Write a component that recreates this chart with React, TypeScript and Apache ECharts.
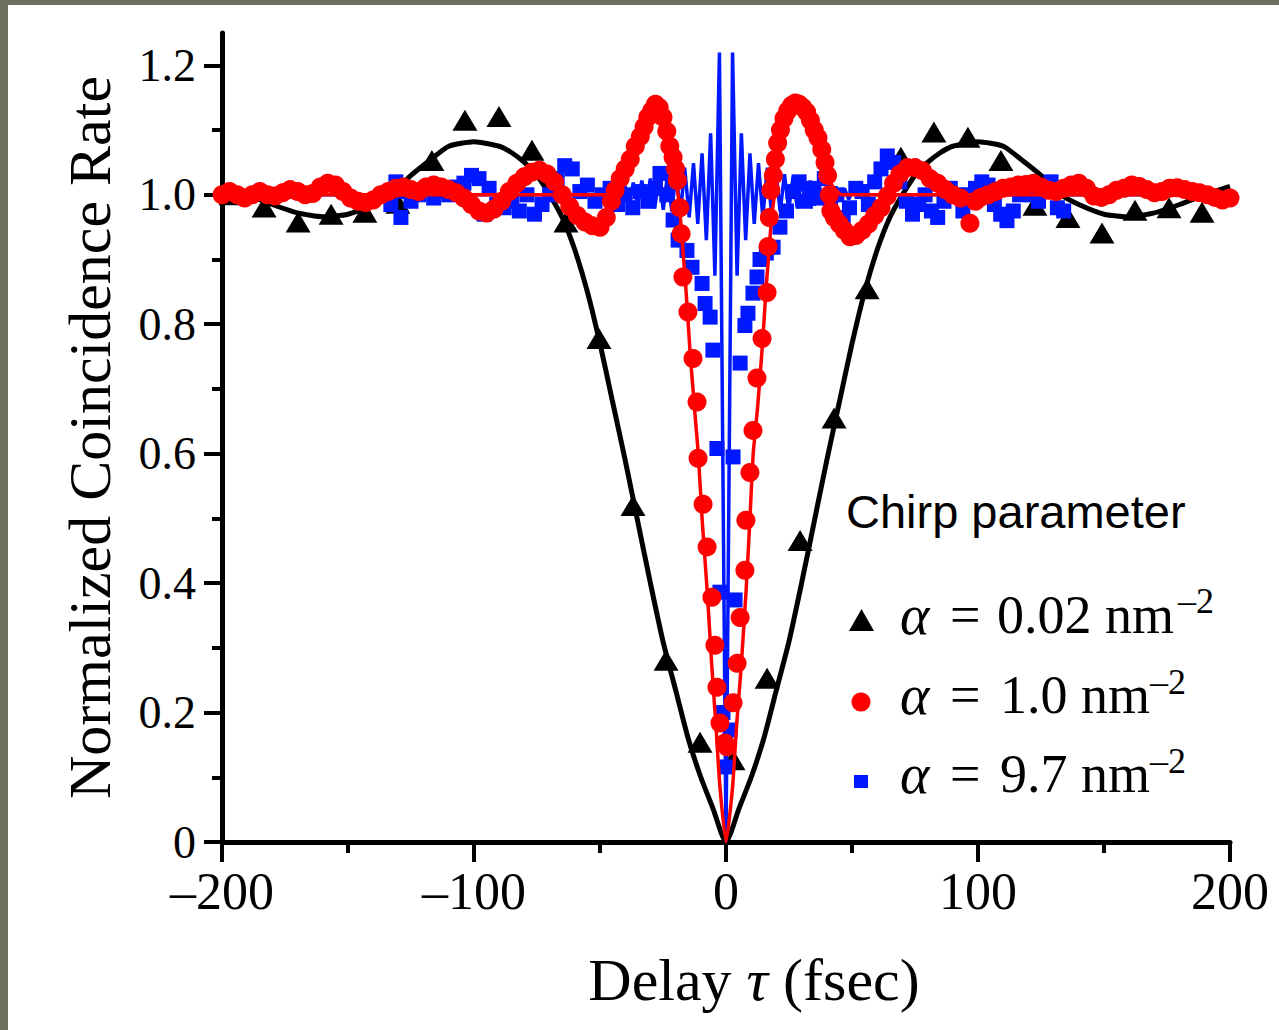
import React, { useEffect, useRef } from "react";
import * as echarts from "echarts";

// ---------- data (t in fsec, value = normalized coincidence rate) ----------
const xTicks = [-200, -100, 0, 100, 200];
const yMajorTicks = [0, 0.2, 0.4, 0.6, 0.8, 1.0, 1.2];
const yMinorTicks = [0.1, 0.3, 0.5, 0.7, 0.9, 1.1];

// alpha = 0.02 nm^-2 : measured (triangles)
const blackPoints: number[][] = [
  [-196.4, 1.0], [-183.3, 0.981], [-169.8, 0.958], [-156.7, 0.97], [-143.3, 0.973],
  [-130.2, 0.987], [-116.7, 1.053], [-103.6, 1.115], [-90.1, 1.121], [-77.0, 1.069],
  [-63.5, 0.958], [-50.4, 0.778], [-36.9, 0.52], [-23.8, 0.281], [-10.3, 0.154],
  [2.8, 0.127], [16.3, 0.253], [29.4, 0.466], [42.9, 0.655], [56.0, 0.855],
  [69.4, 1.058], [82.5, 1.097], [96.0, 1.089], [109.1, 1.053], [122.6, 0.984],
  [135.7, 0.965], [149.2, 0.941], [162.3, 0.976], [175.8, 0.98], [188.9, 0.973],
];

// alpha = 0.02 nm^-2 : fit
const blackFit: number[][] = [
  [-200, 1.013], [-190, 1.0], [-180, 0.985], [-170, 0.972], [-160, 0.966], [-150, 0.97],
  [-140, 0.985], [-133, 1.0], [-125, 1.03], [-117, 1.055], [-110, 1.075], [-100, 1.082],
  [-90, 1.075], [-85, 1.065], [-80, 1.05], [-75, 1.03], [-70, 1.0], [-65, 0.965],
  [-60, 0.915], [-55, 0.85], [-50, 0.77], [-45, 0.68], [-40, 0.59], [-35, 0.495],
  [-30, 0.4], [-25, 0.31], [-20, 0.235], [-15, 0.16], [-10, 0.1], [-5, 0.05], [-2, 0.015],
  [0, 0],
  [2, 0.015], [5, 0.05], [10, 0.1], [15, 0.16], [20, 0.235], [25, 0.31], [30, 0.4],
  [35, 0.495], [40, 0.59], [45, 0.68], [50, 0.77], [55, 0.85], [60, 0.915], [65, 0.965],
  [70, 1.0], [75, 1.03], [80, 1.05], [85, 1.065], [90, 1.075], [100, 1.082], [110, 1.075],
  [117, 1.055], [125, 1.03], [133, 1.0], [140, 0.985], [150, 0.97], [160, 0.966],
  [170, 0.972], [180, 0.985], [190, 1.0], [200, 1.013],
];

// alpha = 1.0 nm^-2 : measured (circles)
const redPoints: number[][] = [
  [-200, 1.0], [-197, 1.005], [-194, 1.0], [-191, 0.995], [-188, 1.0], [-185, 1.005],
  [-182, 1.0], [-179, 0.998], [-176, 1.003], [-173, 1.008], [-170, 1.005], [-167, 1.0],
  [-164, 1.002], [-161, 1.012], [-158, 1.018], [-155, 1.015], [-152, 1.005], [-149, 0.995],
  [-146, 0.99], [-143, 0.988], [-140, 0.992], [-137, 1.0], [-134, 1.005], [-131, 1.01],
  [-128, 1.012], [-125, 1.008], [-122, 1.005], [-119, 1.012], [-116, 1.015], [-113, 1.012],
  [-110, 1.008], [-107, 1.003], [-104, 0.995], [-101, 0.985], [-98, 0.975], [-95, 0.972],
  [-92, 0.978], [-89, 0.99], [-86, 1.005], [-83, 1.018], [-80, 1.028], [-77, 1.035],
  [-74, 1.038], [-71, 1.032], [-68, 1.02], [-65, 1.0], [-62, 0.982], [-59, 0.968],
  [-56, 0.958], [-53, 0.952], [-50, 0.95], [-47.5, 0.965], [-45.5, 0.99], [-44, 1.007],
  [-42, 1.025], [-40, 1.04], [-38, 1.055], [-36, 1.075], [-34, 1.09], [-32.5, 1.105],
  [-31, 1.12], [-29.5, 1.13], [-28, 1.14], [-26.5, 1.135], [-25, 1.12], [-23.5, 1.098],
  [-22.3, 1.075], [-21, 1.058], [-20, 1.04], [-19.3, 1.022], [-18.3, 0.98], [-17.8, 0.94],
  [-17.1, 0.873], [-15.1, 0.819], [-13.1, 0.747], [-11.5, 0.68], [-11.1, 0.593],
  [-9.1, 0.522], [-7.5, 0.456], [-5.6, 0.378], [-4.4, 0.304], [-3.6, 0.239], [-2.4, 0.184],
  [-0.4, 0.153], [0.4, 0.147], [2.8, 0.215], [4.4, 0.276], [5.6, 0.347], [7.5, 0.42],
  [7.9, 0.497], [9.5, 0.571], [10.7, 0.636], [12.3, 0.717], [14.3, 0.778], [16.3, 0.849],
  [16.7, 0.92], [17.2, 0.965], [17.8, 1.007], [18.8, 1.03], [19.6, 1.055], [20.5, 1.08],
  [21.6, 1.1], [23, 1.118], [24.5, 1.13], [26, 1.138], [27.5, 1.142], [29, 1.14],
  [30.5, 1.135], [32, 1.128], [33.5, 1.115], [35, 1.1], [36.5, 1.088], [38, 1.07],
  [39.3, 1.05], [40.3, 1.03], [41, 1.0], [41.6, 0.975], [43, 0.965], [45, 0.955],
  [47, 0.945], [49.2, 0.935], [51.5, 0.937], [54, 0.945], [56.5, 0.955], [59, 0.968],
  [61.5, 0.98], [64, 0.998], [66.5, 1.018], [69, 1.032], [72, 1.042], [75, 1.042],
  [78, 1.037], [81, 1.025], [84, 1.018], [87, 1.008], [90, 1.0], [93, 0.995], [96.8, 0.956],
  [99, 0.99], [101, 0.996], [104, 1.0], [107, 1.005], [110, 1.01], [113, 1.012],
  [116, 1.015], [119, 1.016], [122, 1.018], [125, 1.012], [128, 1.007], [131, 1.005],
  [134, 1.01], [137, 1.015], [140, 1.018], [143, 1.01], [146, 0.998], [149, 0.996],
  [152, 1.0], [155, 1.007], [158, 1.01], [161, 1.015], [164, 1.013], [167, 1.008],
  [170, 1.003], [173, 1.005], [176, 1.01], [179, 1.011], [182, 1.008], [185, 1.005],
  [188, 1.003], [191, 1.0], [194, 0.996], [197, 0.992], [200, 0.995],
];

// alpha = 1.0 nm^-2 : fit
const redFit: number[][] = [
  [-200, 1.0], [-150, 1.0], [-100, 1.0], [-60, 1.0], [-46, 1.0], [-42, 1.015], [-39, 1.04],
  [-36, 1.07], [-33, 1.1], [-30, 1.125], [-28, 1.135], [-26, 1.13], [-24, 1.11], [-22, 1.08],
  [-20.5, 1.04], [-19, 1.0], [-18, 0.96], [-17, 0.91], [-16, 0.86], [-14.3, 0.76],
  [-12.5, 0.67], [-11, 0.6], [-9.5, 0.5], [-7.5, 0.39], [-5.6, 0.27], [-4, 0.18],
  [-2.4, 0.085], [0, 0], [2.6, 0.085], [4.2, 0.18], [6, 0.27], [8, 0.39], [9.5, 0.5],
  [10.8, 0.6], [12.5, 0.67], [14.3, 0.76], [16, 0.86], [17, 0.91], [18, 0.96], [19.2, 1.0],
  [20.5, 1.04], [22, 1.08], [24, 1.11], [26, 1.13], [28, 1.135], [30, 1.125], [33, 1.1],
  [36, 1.07], [39, 1.04], [42, 1.015], [46, 1.0], [60, 1.0], [100, 1.0], [150, 1.0], [200, 1.0],
];

// alpha = 9.7 nm^-2 : measured (squares)
const bluePoints: number[][] = [
  [-133, 0.985], [-131, 1.02], [-129, 0.965], [-127, 1.005], [-125, 0.99], [-122, 1.0],
  [-119, 1.01], [-116, 0.995], [-113, 1.005], [-110, 1.0], [-107, 1.012], [-104, 1.018],
  [-101, 1.03], [-98, 1.025], [-96, 0.97], [-94, 1.01], [-91, 0.985], [-88, 0.98],
  [-85, 0.99], [-82, 0.975], [-79, 1.0], [-76, 0.97], [-73, 0.985], [-70, 1.0],
  [-67, 1.025], [-64, 1.045], [-61, 1.04], [-58, 1.005], [-55, 1.015], [-52, 0.99],
  [-49, 1.0], [-46, 1.01], [-43, 0.985], [-40, 1.0], [-37, 0.98], [-34, 1.005],
  [-31, 0.99], [-28, 1.01], [-26.2, 1.033], [-23.5, 1.0], [-21, 0.961], [-19, 0.93],
  [-15.5, 0.914], [-13.5, 0.888], [-9.5, 0.863], [-8.3, 0.832], [-6.3, 0.811], [-5.2, 0.76],
  [-3.6, 0.608], [-2.4, 0.386], [-1.2, 0.2], [0.4, 0.116], [1.6, 0.173], [2.8, 0.595],
  [3.6, 0.374], [5.6, 0.74], [7.5, 0.798], [8.7, 0.817], [10.7, 0.848], [12.3, 0.873],
  [13.5, 0.9], [16, 0.91], [18.7, 0.919], [21.4, 0.95], [24, 0.975], [26.5, 1.005],
  [29, 1.02], [31.5, 0.99], [34, 1.01], [36.5, 0.995], [39, 1.025], [41.5, 0.985],
  [44, 1.0], [46.5, 0.965], [49, 0.98], [51.5, 1.01], [54, 1.005], [56.5, 0.985],
  [59, 1.02], [61.5, 1.04], [64, 1.06], [66.5, 1.05], [69, 1.02], [71.5, 0.99],
  [74, 0.97], [76.5, 0.985], [79, 1.0], [81.5, 0.975], [84, 0.965], [86.5, 0.99],
  [89, 1.01], [91.5, 1.0], [94, 0.975], [96.5, 1.0], [99, 1.01], [101.5, 1.02],
  [104, 1.015], [106.5, 0.985], [109, 0.97], [111.5, 0.96], [114, 0.975], [116.5, 1.0],
  [119, 1.015], [121.5, 1.0], [124, 0.99], [126.5, 1.005], [129, 1.02], [131.5, 0.98],
  [134, 0.975],
];

// alpha = 9.7 nm^-2 : fit (fringes)
const blueFit: number[][] = [
  [-200, 1.0], [-120, 1.0], [-55, 1.0], [-52.1, 1.0], [-50.4, 1.007], [-48.7, 0.993],
  [-47.0, 1.01], [-45.3, 0.99], [-43.6, 1.013], [-41.9, 0.988], [-40.2, 1.016], [-38.5, 0.985],
  [-36.8, 1.019], [-35.1, 0.983], [-33.4, 1.022], [-31.7, 0.981], [-30.0, 1.025], [-28.3, 0.979],
  [-26.6, 1.028], [-24.9, 0.977], [-23.2, 1.032], [-21.5, 0.974], [-19.8, 1.036], [-18.1, 0.97],
  [-16.4, 1.042], [-14.6, 0.965], [-12.9, 1.049], [-11.2, 0.955], [-9.5, 1.064], [-7.8, 0.93],
  [-6.1, 1.095], [-4.4, 0.875], [-2.6, 1.22], [0, 0], [2.6, 1.22], [4.4, 0.875], [6.1, 1.095],
  [7.8, 0.93], [9.5, 1.064], [11.2, 0.955], [12.9, 1.049], [14.6, 0.965], [16.4, 1.042],
  [18.1, 0.97], [19.8, 1.036], [21.5, 0.974], [23.2, 1.032], [24.9, 0.977], [26.6, 1.028],
  [28.3, 0.979], [30.0, 1.025], [31.7, 0.981], [33.4, 1.022], [35.1, 0.983], [36.8, 1.019],
  [38.5, 0.985], [40.2, 1.016], [41.9, 0.988], [43.6, 1.013], [45.3, 0.99], [47.0, 1.01],
  [48.7, 0.993], [50.4, 1.007], [52.1, 1.0], [55, 1.0], [120, 1.0], [200, 1.0],
];

const legendLabels = ["0.02", "1.0", "9.7"];

// ---------- chart ----------
const SERIF = "'Liberation Serif', 'Times New Roman', serif";
const SANS = "'Liberation Sans', Arial, sans-serif";
const BLUE = "#0018ff";
const RED = "#ff0000";

export default function App() {
  const ref = useRef<HTMLDivElement>(null);

  useEffect(() => {
    if (!ref.current) return;
    const chart = echarts.init(ref.current, null, { renderer: "svg" });

    const legendRowsY = [615, 695, 774];
    const supRowsY = [601, 682, 761];
    const numX = [997, 1000, 1000];
    const supX = [1178, 1150, 1150];
    const legendTexts: any[] = [];
    legendLabels.forEach((lab, i) => {
      legendTexts.push(
        {
          type: "text", x: 900, y: legendRowsY[i],
          style: { text: "α", fontFamily: SERIF, fontSize: 56, fontStyle: "italic", fill: "#000", align: "left", verticalAlign: "middle", textAlign: "left", textVerticalAlign: "middle" },
        },
        {
          type: "text", x: 950, y: legendRowsY[i],
          style: { text: "=", fontFamily: SERIF, fontSize: 54, fill: "#000", align: "left", verticalAlign: "middle", textAlign: "left", textVerticalAlign: "middle" },
        },
        {
          type: "text", x: numX[i], y: legendRowsY[i],
          style: { text: lab + " nm", fontFamily: SERIF, fontSize: 54, fill: "#000", align: "left", verticalAlign: "middle", textAlign: "left", textVerticalAlign: "middle" },
        },
        {
          type: "text", x: supX[i], y: supRowsY[i],
          style: { text: "–2", fontFamily: SERIF, fontSize: 36, fill: "#000", align: "left", verticalAlign: "middle", textAlign: "left", textVerticalAlign: "middle" },
        }
      );
    });

    const option: any = {
      animation: false,
      backgroundColor: "#ffffff",
      grid: { left: 222, right: 49, top: 33, bottom: 188, containLabel: false },
      xAxis: {
        type: "value",
        min: -200,
        max: 200,
        interval: 100,
        axisLine: { show: true, onZero: false, lineStyle: { color: "#000", width: 5 } },
        axisTick: { show: true, inside: false, length: 20, customValues: xTicks, lineStyle: { color: "#000", width: 4 } },
        minorTick: { show: true, splitNumber: 2, length: 11, lineStyle: { color: "#000", width: 4 } },
        splitLine: { show: false },
        minorSplitLine: { show: false },
        axisLabel: {
          margin: 23,
          fontFamily: SERIF,
          fontSize: 52,
          color: "#000",
          formatter: (v: number) => (v < 0 ? "–" + Math.abs(v) : String(v)),
        },
        name: "Delay {i|τ} (fsec)",
        nameLocation: "middle",
        nameGap: 108,
        nameTextStyle: {
          fontFamily: SERIF,
          fontSize: 60,
          color: "#000",
          padding: [0, 0, 0, 56],
          rich: { i: { fontFamily: SERIF, fontSize: 60, fontStyle: "italic", color: "#000" } },
        },
      },
      yAxis: [
        {
          type: "value",
          min: 0,
          max: 1.25,
          interval: 0.2,
          position: "left",
          axisLine: { show: true, onZero: false, lineStyle: { color: "#000", width: 5 } },
          axisTick: { show: true, inside: false, length: 18, customValues: yMajorTicks, lineStyle: { color: "#000", width: 4 } },
          splitLine: { show: false },
          axisLabel: {
            margin: 26,
            customValues: yMajorTicks,
            fontFamily: SERIF,
            fontSize: 46,
            color: "#000",
            formatter: (v: number) => (v === 0 ? "0" : v.toFixed(1)),
          },
          name: "Normalized Coincidence Rate",
          nameLocation: "middle",
          nameGap: 102,
          nameTextStyle: { fontFamily: SERIF, fontSize: 60, color: "#000" },
        },
        {
          type: "value",
          min: 0,
          max: 1.25,
          position: "left",
          offset: 0,
          axisLine: { show: false, onZero: false },
          axisTick: { show: true, inside: false, length: 10, customValues: yMinorTicks, lineStyle: { color: "#000", width: 4 } },
          axisLabel: { show: false },
          splitLine: { show: false },
        },
      ],
      series: [
        {
          name: "fit 0.02",
          type: "line",
          data: blackFit,
          showSymbol: false,
          smooth: 0.2,
          lineStyle: { color: "#000", width: 5 },
          z: 2,
        },
        {
          name: "α = 0.02 nm⁻²",
          type: "scatter",
          data: blackPoints,
          symbol: "triangle",
          symbolSize: [25, 21],
          itemStyle: { color: "#000", opacity: 1 },
          z: 3,
        },
        {
          name: "α = 9.7 nm⁻²",
          type: "scatter",
          data: bluePoints,
          symbol: "rect",
          symbolSize: 15,
          itemStyle: { color: BLUE, opacity: 1 },
          z: 4,
        },
        {
          name: "fit 9.7",
          type: "line",
          data: blueFit,
          showSymbol: false,
          lineStyle: { color: BLUE, width: 3.5 },
          z: 5,
        },
        {
          name: "α = 1.0 nm⁻²",
          type: "scatter",
          data: redPoints,
          symbol: "circle",
          symbolSize: 19,
          itemStyle: { color: RED, opacity: 1 },
          z: 6,
        },
        {
          name: "fit 1.0",
          type: "line",
          data: redFit,
          showSymbol: false,
          smooth: 0.2,
          lineStyle: { color: RED, width: 3.5 },
          z: 7,
        },
      ],
      graphic: {
        elements: [
          { type: "rect", shape: { x: 0, y: 0, width: 1279, height: 5 }, style: { fill: "#6f6f60" }, z: 100 },
          { type: "rect", shape: { x: 0, y: 0, width: 8, height: 1030 }, style: { fill: "#6f6f60" }, z: 100 },
          {
            type: "text", x: 846, y: 511,
            style: { text: "Chirp parameter", fontFamily: SANS, fontSize: 47, fill: "#000", align: "left", verticalAlign: "middle", textAlign: "left", textVerticalAlign: "middle" },
          },
          { type: "polygon", shape: { points: [[849, 631], [874, 631], [861.5, 609]] }, style: { fill: "#000" } },
          { type: "circle", shape: { cx: 861, cy: 702, r: 9.5 }, style: { fill: RED } },
          { type: "rect", shape: { x: 854, y: 775, width: 14, height: 13 }, style: { fill: BLUE } },
          ...legendTexts,
        ],
      },
    };

    chart.setOption(option);
    return () => chart.dispose();
  }, []);

  return (
    <div
      ref={ref}
      style={{ position: "absolute", left: 0, top: 0, width: 1279, height: 1030, background: "#fff" }}
    />
  );
}
